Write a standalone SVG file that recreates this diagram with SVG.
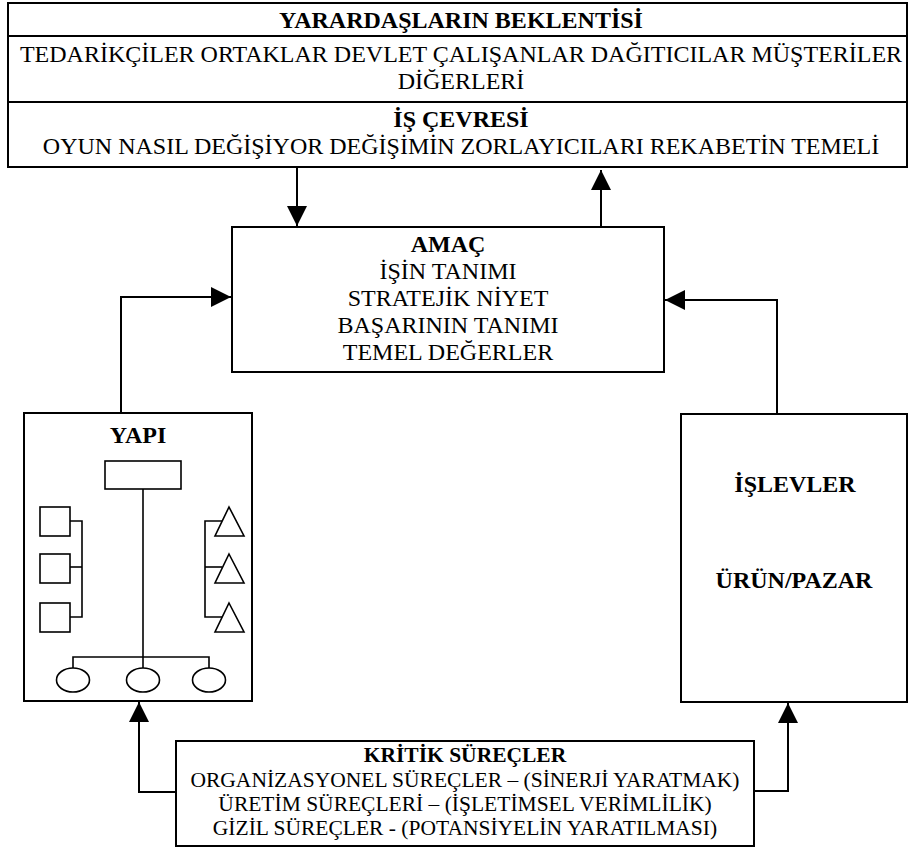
<svg xmlns="http://www.w3.org/2000/svg" width="909" height="852" viewBox="0 0 909 852" font-family="'Liberation Serif', 'DejaVu Serif', serif">
<style>
.box{fill:#fff;stroke:#000;stroke-width:2}
.ln{fill:none;stroke:#000;stroke-width:2}
.thin{fill:none;stroke:#000;stroke-width:1.6}
text{font-family:'Liberation Serif', serif;font-size:24px;fill:#000;text-anchor:middle}
.b{font-weight:bold}
.s{font-size:21.5px}
</style>
<defs>
<marker id="arr" viewBox="0 0 20 20" refX="20" refY="10" markerWidth="20" markerHeight="20" markerUnits="userSpaceOnUse" orient="auto">
<path d="M0,0 L20,10 L0,20 z" fill="#000"/>
</marker>
</defs>
<rect width="909" height="852" fill="#fff"/>

<g id="paydaslar">
<rect class="box" x="8" y="3" width="899" height="164"/>
<line class="ln" x1="8" y1="36" x2="907" y2="36"/>
<line class="ln" x1="8" y1="102" x2="907" y2="102"/>
<text class="b" x="461" y="28">YARARDAŞLARIN BEKLENTİSİ</text>
<text x="461" y="62">TEDARİKÇİLER ORTAKLAR DEVLET ÇALIŞANLAR DAĞITICILAR MÜŞTERİLER</text>
<text x="461" y="89">DİĞERLERİ</text>
<text class="b" x="461" y="127">İŞ ÇEVRESİ</text>
<text x="461" y="154">OYUN NASIL DEĞİŞİYOR DEĞİŞİMİN ZORLAYICILARI REKABETİN TEMELİ</text>
</g>

<g id="amac">
<rect class="box" x="232" y="227" width="432" height="145"/>
<text class="b" x="448" y="252">AMAÇ</text>
<text x="448" y="279">İŞİN TANIMI</text>
<text x="448" y="306">STRATEJİK NİYET</text>
<text x="448" y="333">BAŞARININ TANIMI</text>
<text x="448" y="360">TEMEL DEĞERLER</text>
</g>

<g id="yapi">
<rect class="box" x="24" y="413" width="228" height="288"/>
<text class="b" x="138" y="443">YAPI</text>
<rect class="thin" x="105" y="461" width="76" height="28"/>
<line class="thin" x1="143" y1="489" x2="143" y2="668"/>
<polyline class="thin" points="73,668 73,657 209,657 209,668"/>
<ellipse class="thin" cx="73" cy="680" rx="16.5" ry="12"/>
<ellipse class="thin" cx="143" cy="680" rx="16.5" ry="12"/>
<ellipse class="thin" cx="209" cy="680" rx="16.5" ry="12"/>
<rect class="thin" x="40" y="507" width="30" height="29"/>
<rect class="thin" x="40" y="554" width="30" height="29"/>
<rect class="thin" x="40" y="603" width="30" height="29"/>
<polyline class="thin" points="70,521 82,521 82,617 70,617"/>
<line class="thin" x1="70" y1="567" x2="82" y2="567"/>
<polygon class="thin" points="229,507 244,536 215,536"/>
<polygon class="thin" points="229,554 244,583 215,583"/>
<polygon class="thin" points="229,603 244,632 215,632"/>
<polyline class="thin" points="222,521 205,521 205,617 222,617"/>
<line class="thin" x1="205" y1="567" x2="222" y2="567"/>
</g>

<g id="islevler">
<rect class="box" x="681" y="414" width="226" height="288"/>
<text class="b" x="795" y="492">İŞLEVLER</text>
<text class="b" x="794" y="588">ÜRÜN/PAZAR</text>
</g>

<g id="kritik">
<rect class="box" x="176" y="741" width="578" height="105"/>
<text class="s b" x="465" y="762">KRİTİK SÜREÇLER</text>
<text class="s" x="465" y="787">ORGANİZASYONEL SÜREÇLER – (SİNERJİ YARATMAK)</text>
<text class="s" x="465" y="811">ÜRETİM SÜREÇLERİ – (İŞLETİMSEL VERİMLİLİK)</text>
<text class="s" x="465" y="835">GİZİL SÜREÇLER - (POTANSİYELİN YARATILMASI)</text>
</g>

<g id="connectors">
<line class="ln" x1="297" y1="167" x2="297" y2="226" marker-end="url(#arr)"/>
<line class="ln" x1="601" y1="227" x2="601" y2="170" marker-end="url(#arr)"/>
<polyline class="ln" points="121,413 121,297 231,297" marker-end="url(#arr)"/>
<polyline class="ln" points="777,414 777,300 665,300" marker-end="url(#arr)"/>
<polyline class="ln" points="176,792 139,792 139,702" marker-end="url(#arr)"/>
<polyline class="ln" points="754,791 788,791 788,703" marker-end="url(#arr)"/>
</g>
</svg>
